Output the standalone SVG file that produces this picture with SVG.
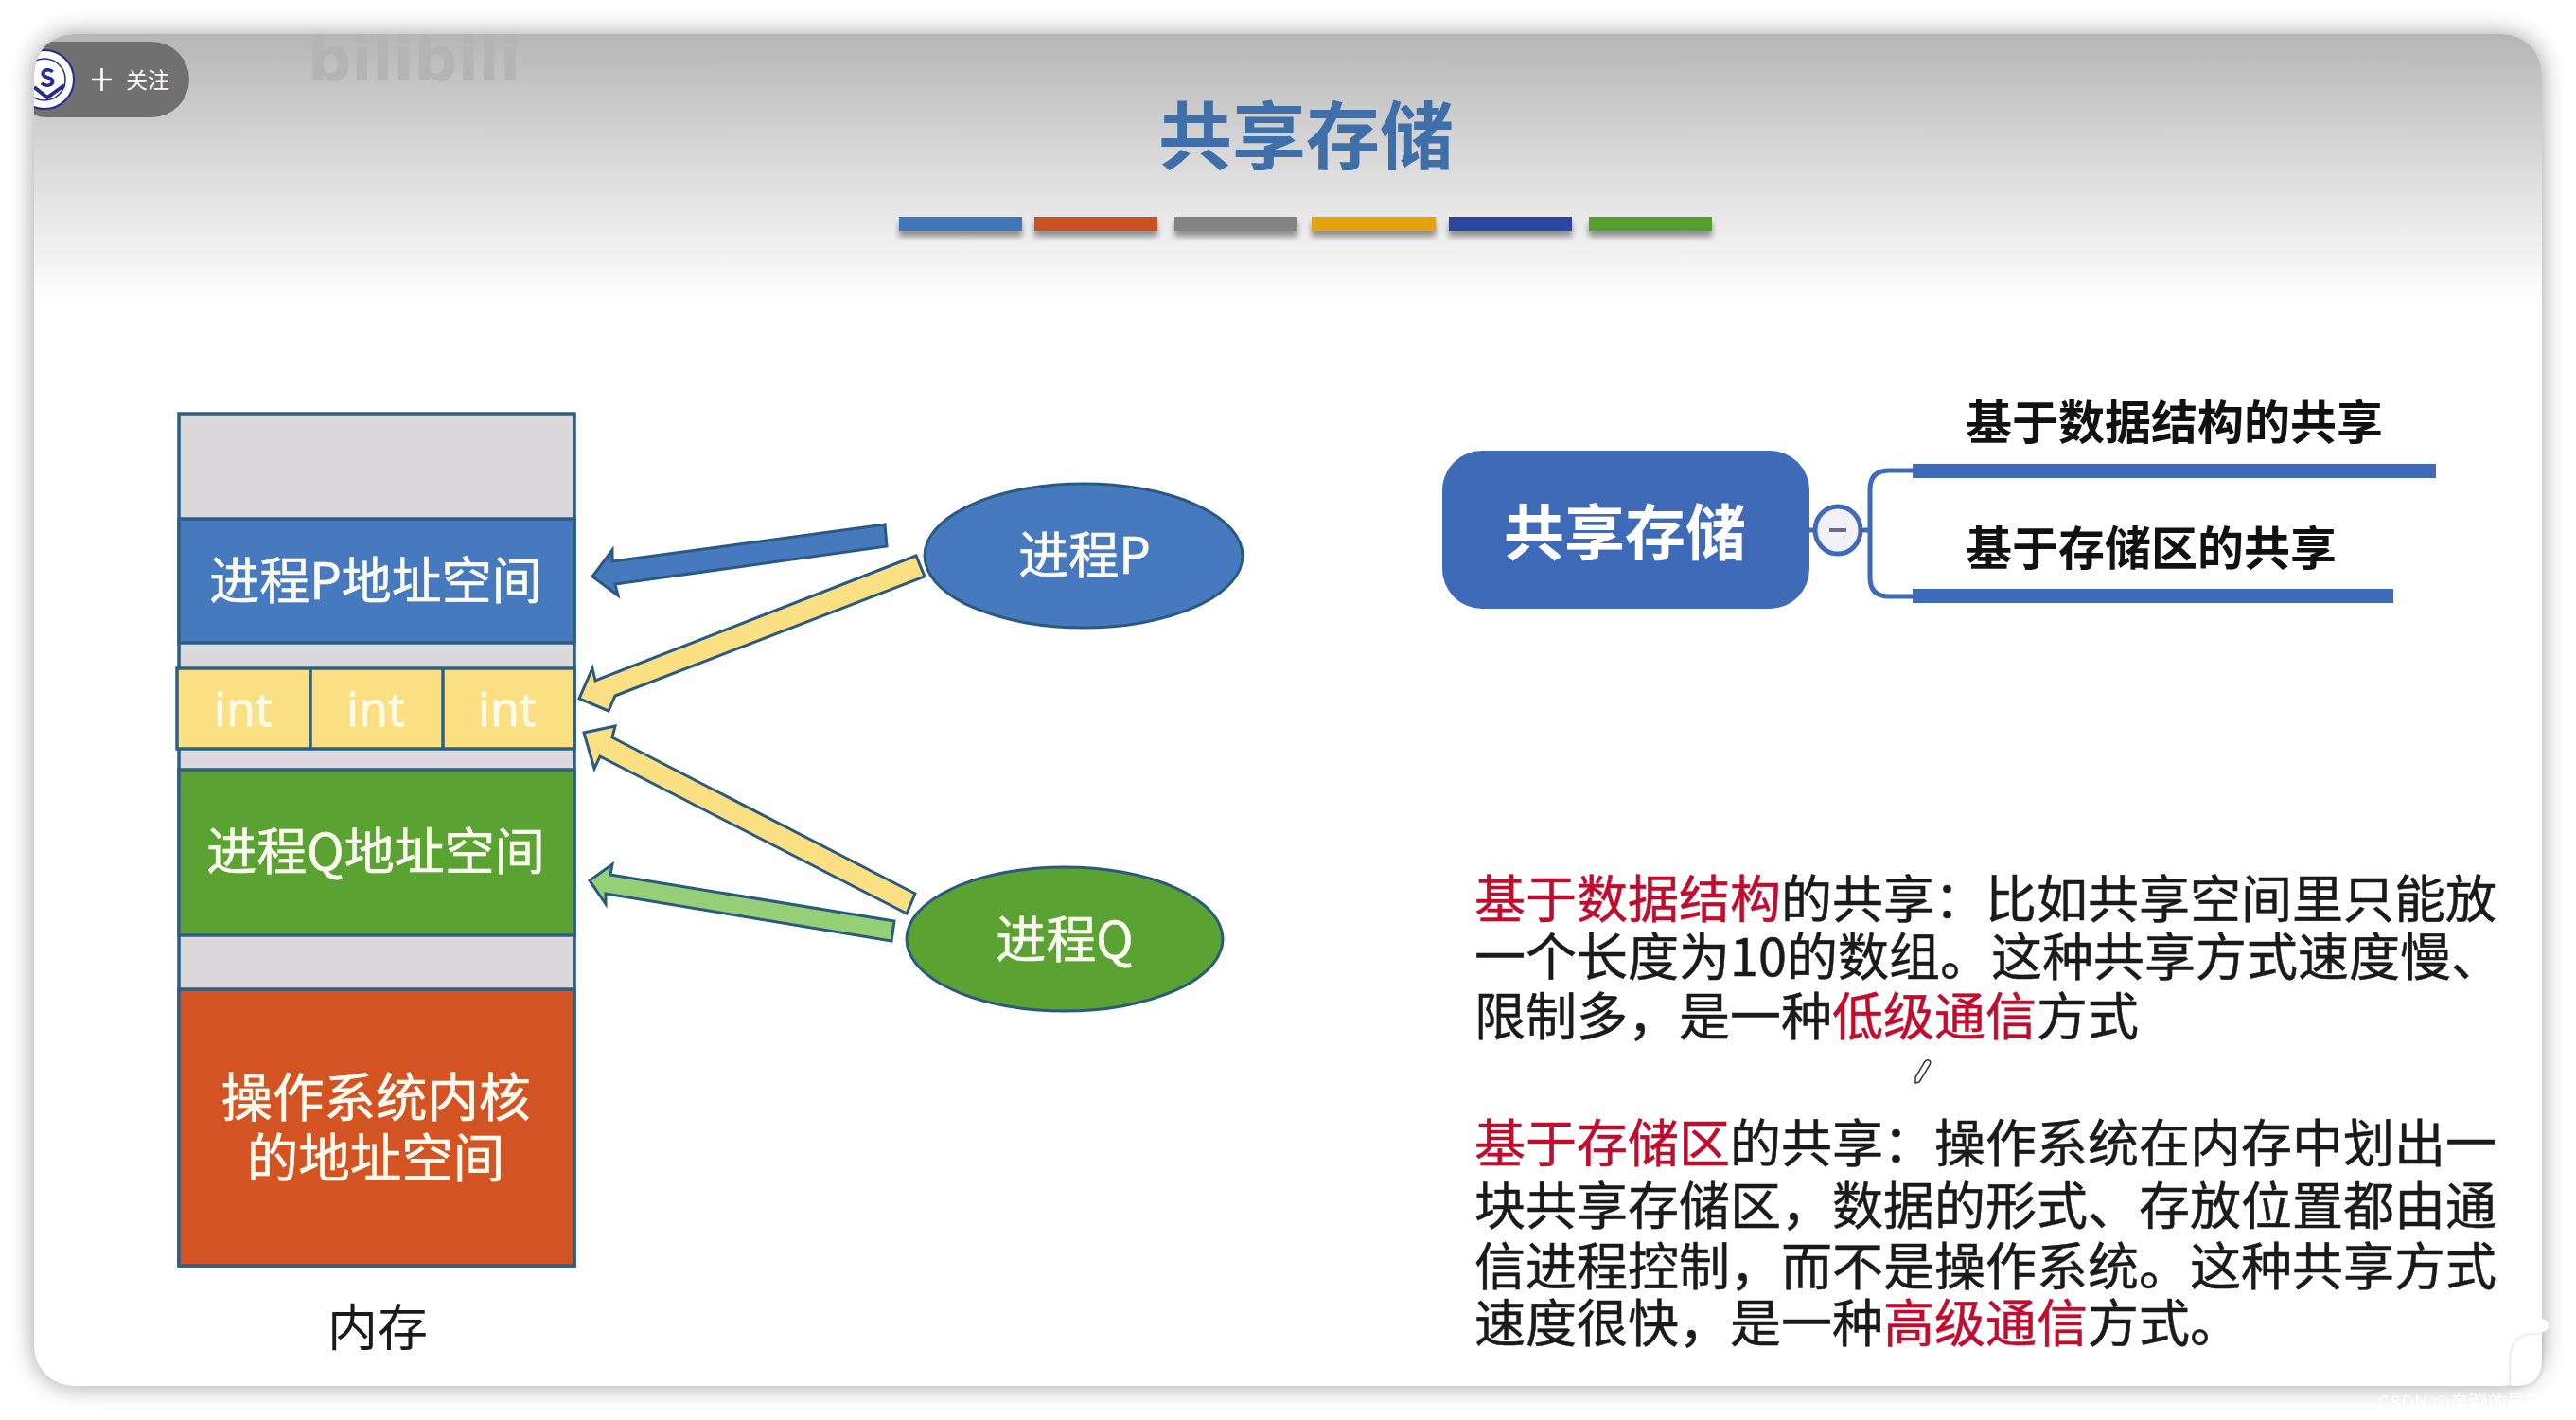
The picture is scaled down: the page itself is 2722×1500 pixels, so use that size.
<svg xmlns="http://www.w3.org/2000/svg" width="2722" height="1500" viewBox="0 0 2722 1500">
<defs>
<linearGradient id="hdr" x1="0" y1="0" x2="0" y2="1"><stop offset="0" stop-color="#b6b6b6"/><stop offset="0.5" stop-color="#dcdcdc"/><stop offset="1" stop-color="#ffffff"/></linearGradient>
<filter id="win" x="-5%" y="-5%" width="110%" height="110%"><feGaussianBlur stdDeviation="13"/></filter>
<filter id="sh" x="-10%" y="-50%" width="120%" height="220%"><feGaussianBlur stdDeviation="3"/></filter>
<filter id="soft" x="-30%" y="-30%" width="160%" height="160%"><feGaussianBlur stdDeviation="2"/></filter>
<clipPath id="wclip"><rect x="36" y="36" width="2650" height="1428" rx="42"/></clipPath>
</defs>
<style>
text{font-family:"Noto Sans CJK SC","Noto Sans",sans-serif}
.lab{fill:#fbfbf0;stroke:#fbfbf0;stroke-width:.6;font-size:53px;text-anchor:middle}
.int{fill:#fffbe8;stroke:#fffbe8;stroke-width:.8;font-size:50px;text-anchor:middle;font-family:"Noto Sans",sans-serif}
.cell{stroke:#2c5f82;stroke-width:3.5}
.body{font-size:54px;fill:#1a1a1a;stroke:#1a1a1a;stroke-width:.5}
.body .red{fill:#c00d2e;stroke:#c00d2e}
.branch{font-size:49px;font-weight:700;fill:#111}
.arrow{stroke:#2a5a80;stroke-width:3;stroke-linejoin:miter}
.line{fill:none;stroke:#3f6ab8;stroke-width:5}
</style>
<rect width="2722" height="1500" fill="#ffffff"/>
<rect x="36" y="36" width="2650" height="1428" rx="42" fill="#000" opacity="0.38" filter="url(#win)"/>
<text x="2513" y="1489" font-size="20" fill="#fff" opacity="0.8">CSDN @奔跑的星黛露</text>
<rect id="slide" x="36" y="36" width="2650" height="1428" rx="42" fill="#fff"/>
<g clip-path="url(#wclip)">
<rect x="36" y="36" width="2650" height="285" fill="url(#hdr)"/>
<text x="325" y="85" font-size="64" font-weight="700" fill="#b4b4b4" style="font-family:'DejaVu Sans',sans-serif" textLength="225" lengthAdjust="spacingAndGlyphs">bilibili</text>
<g id="follow">
<rect x="10" y="44" width="190" height="80" rx="40" fill="#707070"/>
<circle cx="47" cy="84" r="31" fill="#fff" stroke="#2a2a8c" stroke-width="2"/>
<circle cx="47" cy="84" r="22" fill="none" stroke="#2a2a8c" stroke-width="1.5"/>
<text x="50" y="92" font-size="27" font-weight="700" fill="#2a2a8c" text-anchor="middle">S</text>
<path d="M36 92L50 103L68 90" fill="none" stroke="#2a2a8c" stroke-width="4"/>
<path d="M107.500 72V96M97 84H118" stroke="#fff" stroke-width="2.500" fill="none"/>
<text x="133" y="93" font-size="23" fill="#fff">关注</text>
</g>
</g>
<text id="title" x="1380" y="173" font-size="78" font-weight="700" fill="#3f6fa8" text-anchor="middle">共享存储</text>
<g id="colorbars">
<g filter="url(#sh)" fill="#000" opacity="0.4"><rect x="950" y="235" width="130" height="15"/><rect x="1093" y="235" width="130" height="15"/><rect x="1241" y="235" width="130" height="15"/><rect x="1386" y="235" width="131" height="15"/><rect x="1531" y="235" width="130" height="15"/><rect x="1679" y="235" width="130" height="15"/></g>
<rect x="950" y="229" width="130" height="15" fill="#3f77ba"/>
<rect x="1093" y="229" width="130" height="15" fill="#c9501f"/>
<rect x="1241" y="229" width="130" height="15" fill="#838383"/>
<rect x="1386" y="229" width="131" height="15" fill="#e3a40d"/>
<rect x="1531" y="229" width="130" height="15" fill="#2a46a0"/>
<rect x="1679" y="229" width="130" height="15" fill="#559f2c"/>
</g>
<g id="memory">
<rect x="189" y="437" width="418" height="900" fill="#dbd9db" class="cell"/>
<g id="p-space"><rect x="189" y="548" width="418" height="131" fill="#4779bf" class="cell"/><text x="397" y="633" class="lab">进程P地址空间</text></g>
<g id="shared">
<rect x="187" y="706" width="420" height="85" fill="#fae083" class="cell"/>
<line x1="328" y1="706" x2="328" y2="791" class="cell"/><line x1="468" y1="706" x2="468" y2="791" class="cell"/>
<text x="257" y="767" class="int">int</text><text x="397" y="767" class="int">int</text><text x="536" y="767" class="int">int</text>
</g>
<g id="q-space"><rect x="189" y="813" width="418" height="175" fill="#5aa333" class="cell"/><text x="397" y="919" class="lab">进程Q地址空间</text></g>
<g id="kernel"><rect x="189" y="1045" width="418" height="292" fill="#d35322" class="cell"/><text x="397" y="1179" class="lab" style="font-size:54.500px">操作系统内核</text><text x="397" y="1243" class="lab" style="font-size:54.500px">的地址空间</text></g>
</g>
<text id="memory-label" x="399" y="1422" font-size="53" fill="#1a1a1a" text-anchor="middle">内存</text>
<g id="connectors">
<polygon class="arrow" fill="#4779bf" points="935,554 647,593 647,581 626,609 653,629 650,617 937,577"/>
<polygon class="arrow" fill="#fae083" points="968,587 629,719 626,706 612,738 643,751 650,735 977,609"/>
<polygon class="arrow" fill="#fae083" points="967,944 647,779 650,767 617,774 628,812 634,799 958,965"/>
<polygon class="arrow" fill="#96cf75" points="945,973 645,924 647,913 623,930 640,955 640,944 942,994"/>
</g>
<g id="process-p"><ellipse cx="1145" cy="587" rx="168" ry="76" fill="#4779bf" stroke="#2a5a80" stroke-width="3"/><text x="1146" y="606" class="lab">进程P</text></g>
<g id="process-q"><ellipse cx="1125" cy="992" rx="167" ry="76" fill="#5aa333" stroke="#2a5a80" stroke-width="3"/><text x="1125" y="1012" class="lab">进程Q</text></g>
<g id="mindmap">
<path class="line" d="M1912 560H1917M1967 560H1976M2021 497H1996Q1976 497 1976 517V610Q1976 630 1996 630H2021"/>
<rect x="1524" y="476" width="388" height="167" rx="42" fill="#3f6ab8"/>
<text x="1717" y="586" font-size="64" font-weight="700" fill="#fff" text-anchor="middle">共享存储</text>
<ellipse cx="1942" cy="560" rx="24" ry="25" fill="#f2f2f6" stroke="#3f6ab8" stroke-width="5"/>
<rect x="1933" y="558" width="18" height="4" fill="#6a6a90"/>
<rect x="2021" y="490" width="553" height="15" fill="#3f6ab8"/>
<rect x="2021" y="622" width="508" height="15" fill="#3f6ab8"/>
<text x="2077" y="464" class="branch">基于数据结构的共享</text>
<text x="2077" y="597" class="branch">基于存储区的共享</text>
</g>
<g id="notes">
<text x="1558" y="970" class="body"><tspan class="red">基于数据结构</tspan>的共享：比如共享空间里只能放</text>
<text x="1558" y="1031" class="body">一个长度为10的数组。这种共享方式速度慢、</text>
<text x="1558" y="1094" class="body">限制多，是一种<tspan class="red">低级通信</tspan>方式</text>
<text x="1558" y="1228" class="body"><tspan class="red">基于存储区</tspan>的共享：操作系统在内存中划出一</text>
<text x="1558" y="1294" class="body">块共享存储区，数据的形式、存放位置都由通</text>
<text x="1558" y="1358" class="body">信进程控制，而不是操作系统。这种共享方式</text>
<text x="1558" y="1418" class="body">速度很快，是一种<tspan class="red">高级通信</tspan>方式。</text>
</g>
<path id="pencil" d="M2024 1144l4-1 11-18q2-4-1-5t-5 3l-9 15z" fill="#fff" stroke="#333" stroke-width="1.500"/>
<path d="M2686 1410H2676Q2653 1410 2653 1440V1464H2660Q2686 1464 2686 1436Z" fill="#000" opacity="0.2" filter="url(#soft)"/>
<path d="M2686 1410H2676Q2653 1410 2653 1440V1464H2660Q2686 1464 2686 1436Z" fill="#fff"/>
<circle cx="2686" cy="1400" r="7" fill="#fff"/>
</svg>
